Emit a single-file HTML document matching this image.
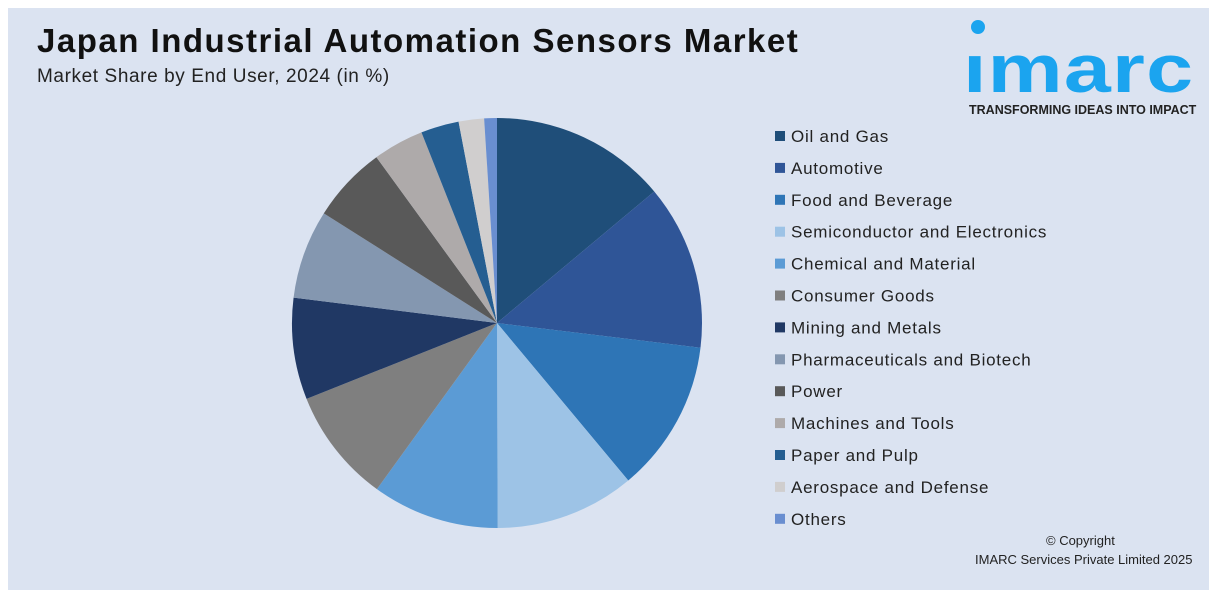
<!DOCTYPE html>
<html><head><meta charset="utf-8"><style>
body{margin:0;width:1217px;height:598px;background:#fff;font-family:"Liberation Sans",sans-serif;position:relative;overflow:hidden}
#bg{position:absolute;left:8px;top:8px;width:1201px;height:582px;background:#dbe3f1}
.t{position:absolute;white-space:nowrap}
</style></head><body>
<div id="bg"></div>
<div class="t" style="left:37px;top:22px;font-size:33px;font-weight:bold;color:#111;letter-spacing:1.5px">Japan Industrial Automation Sensors Market</div>
<div class="t" style="left:37px;top:66px;font-size:19px;color:#222;letter-spacing:0.6px">Market Share by End User, 2024 (in %)</div>
<div>
<div class="t" style="left:971px;top:20px;width:14px;height:14px;border-radius:50%;background:#1ba4ef"></div>
<div class="t" style="left:963px;top:30px;font-size:68px;font-weight:bold;color:#1ba4ef;letter-spacing:1px;transform:scaleX(1.24);transform-origin:left">ımarc</div>
<div class="t" style="left:969px;top:103px;font-size:12.5px;font-weight:bold;color:#222">TRANSFORMING IDEAS INTO IMPACT</div>
</div>
<svg id="pie" width="1217" height="598" style="position:absolute;left:0;top:0"></svg>
<div class="t" style="left:1046px;top:533px;font-size:13px;color:#222">© Copyright</div>
<div class="t" style="left:975px;top:552px;font-size:13px;color:#222">IMARC Services Private Limited 2025</div>
<script>
const categories=["Oil and Gas","Automotive","Food and Beverage","Semiconductor and Electronics","Chemical and Material","Consumer Goods","Mining and Metals","Pharmaceuticals and Biotech","Power","Machines and Tools","Paper and Pulp","Aerospace and Defense","Others"];
const values=[13.9,13,12,11,10,9,8,7,6,4,3,2,1];
const colors=["#1f4e79","#2f5597","#2e75b6","#9dc3e6","#5b9bd5","#7f7f7f","#203864","#8497b0","#595959","#aeaaaa","#255e91","#d0cece","#698ed0"];
const svg=document.getElementById('pie');const NS="http://www.w3.org/2000/svg";
const cx=497,cy=323,r=205;const total=values.reduce((a,b)=>a+b,0);
let a0=0;
function pt(a){return [cx+r*Math.sin(a),cy-r*Math.cos(a)];}
values.forEach((v,i)=>{
 const a1=a0+v/total*2*Math.PI;const p0=pt(a0),p1=pt(a1);
 const p=document.createElementNS(NS,'path');
 p.setAttribute('d',`M${cx},${cy}L${p0[0]},${p0[1]}A${r},${r} 0 ${a1-a0>Math.PI?1:0} 1 ${p1[0]},${p1[1]}Z`);
 p.setAttribute('fill',colors[i]);
 
 
 svg.appendChild(p);a0=a1;
 const y=136+i*31.9;
 const sq=document.createElementNS(NS,'rect');
 sq.setAttribute('x',775);sq.setAttribute('y',y-5);sq.setAttribute('width',10);sq.setAttribute('height',10);sq.setAttribute('fill',colors[i]);
 
 
 svg.appendChild(sq);
 const t=document.createElementNS(NS,'text');
 t.setAttribute('x',791);t.setAttribute('y',y+6);t.setAttribute('font-size','17');t.setAttribute('fill','#222');t.setAttribute('font-family','Liberation Sans, sans-serif');t.setAttribute('letter-spacing','0.75');
 t.textContent=categories[i];
 
 
 svg.appendChild(t);
});
</script>
</body></html>
